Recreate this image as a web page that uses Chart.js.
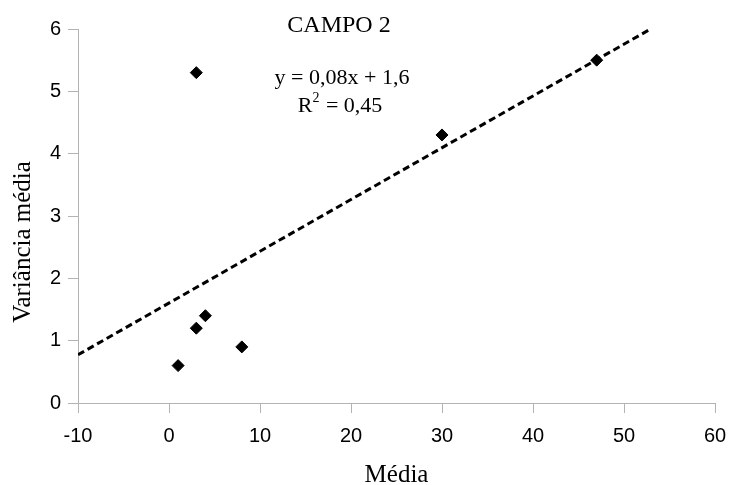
<!DOCTYPE html>
<html>
<head>
<meta charset="utf-8">
<script src="https://cdn.jsdelivr.net/npm/chart.js@4"></script>
<style>
  html, body { margin: 0; padding: 0; background: #fff; }
  #wrap { width: 729px; height: 485px; }
</style>
</head>
<body>
<div id="wrap"><canvas id="myChart" width="729" height="485"></canvas></div>
<script>
// data
var mediaX = [1, 3, 4, 8, 3, 30, 47];
var varianciaY = [0.6, 1.2, 1.4, 0.9, 5.3, 4.3, 5.5];
var trendX = [-10, 53];
var xTicks = [-10, 0, 10, 20, 30, 40, 50, 60];
var yTicks = [0, 1, 2, 3, 4, 5, 6];

// least squares trend line from the points
var n = mediaX.length, sx = 0, sy = 0, sxy = 0, sxx = 0;
for (var i = 0; i < n; i++) {
  sx += mediaX[i]; sy += varianciaY[i];
  sxy += mediaX[i] * varianciaY[i]; sxx += mediaX[i] * mediaX[i];
}
var slope = (n * sxy - sx * sy) / (n * sxx - sx * sx);
var intercept = (sy - slope * sx) / n;

var points = mediaX.map(function (x, i) { return { x: x, y: varianciaY[i] }; });
var trend = trendX.map(function (x) { return { x: x, y: slope * x + intercept }; });

var axisGrey = "#b3b3b3";
var serif = "'Liberation Serif', 'Times New Roman', serif";

// title, equation and axis titles
var textPlugin = {
  id: "texts",
  afterDraw: function (chart) {
    var ctx = chart.ctx;
    var area = chart.chartArea;
    ctx.save();
    ctx.fillStyle = "#000";
    ctx.textBaseline = "alphabetic";
    ctx.textAlign = "center";
    ctx.font = "24px " + serif;
    ctx.fillText("CAMPO 2", 339, 32);
    ctx.font = "22px " + serif;
    ctx.fillText("y = 0,08x + 1,6", 342, 84);
    // R² line
    var a = "R", b = " = 0,45";
    var wa = ctx.measureText(a).width, wb = ctx.measureText(b).width;
    var w = wa + 8 + wb;
    var x0 = 340 - w / 2;
    ctx.textAlign = "left";
    ctx.fillText(a, x0, 112);
    ctx.font = "14px " + serif;
    ctx.fillText("2", x0 + wa, 102);
    ctx.font = "22px " + serif;
    ctx.fillText(b, x0 + wa + 8, 112);

    // axis titles
    ctx.font = "25px " + serif;
    ctx.textAlign = "center";
    ctx.fillText("Média", (area.left + area.right) / 2, 482);
    ctx.translate(30, 242);
    ctx.rotate(-Math.PI / 2);
    ctx.fillText("Variância média", 0, 0);
    ctx.restore();
  }
};

var myChart = document.getElementById("myChart").getContext("2d");
var chart = new Chart(myChart, {
  type: "scatter",
  data: {
    datasets: [
      {
        label: "pontos",
        data: points,
        pointStyle: "rectRot",
        pointRadius: 6,
        backgroundColor: "#000",
        borderColor: "#000",
        borderWidth: 1,
      },
      {
        label: "tendencia",
        type: "line",
        data: trend,
        showLine: true,
        borderColor: "#000",
        borderWidth: 3,
        borderDash: [7, 4],
        pointRadius: 0,
        fill: false,
      },
    ],
  },
  options: {
    responsive: false,
    animation: false,
    layout: { padding: { top: 29, right: 14, left: 0, bottom: 0 } },
    plugins: { legend: { display: false }, tooltip: { enabled: false } },
    scales: {
      x: {
        type: "linear",
        min: xTicks[0],
        max: xTicks[xTicks.length - 1],
        afterBuildTicks: function (s) { s.ticks = xTicks.map(function (v) { return { value: v }; }); },
        afterFit: function (s) { s.height = 82; s.paddingRight = 0; s.paddingLeft = 0; },
        grid: { drawOnChartArea: false, tickLength: 10, color: axisGrey },
        border: { color: axisGrey },
        ticks: { color: "#000", font: { family: "'Liberation Sans', Arial, sans-serif", size: 20 }, padding: 11 },
      },
      y: {
        type: "linear",
        min: yTicks[0],
        max: yTicks[yTicks.length - 1],
        afterBuildTicks: function (s) { s.ticks = yTicks.map(function (v) { return { value: v }; }); },
        afterFit: function (s) { s.width = 78; s.paddingTop = 0; s.paddingBottom = 0; },
        grid: { drawOnChartArea: false, tickLength: 10, color: axisGrey },
        border: { color: axisGrey },
        ticks: { color: "#000", font: { family: "'Liberation Sans', Arial, sans-serif", size: 20 }, padding: 7 },
      },
    },
  },
  plugins: [textPlugin],
});
</script>
</body>
</html>
